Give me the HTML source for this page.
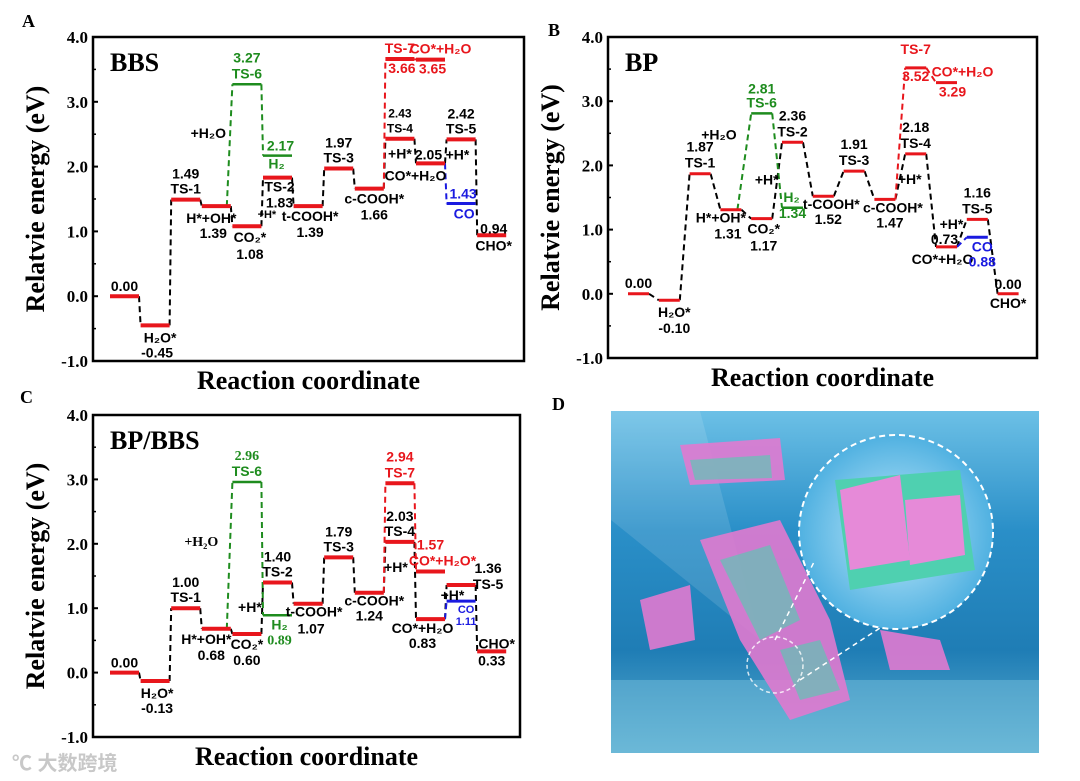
<!DOCTYPE html>
<html><head><meta charset="utf-8"><style>
html,body{margin:0;padding:0;background:#fff;width:1080px;height:781px;overflow:hidden}
svg text{font-family:"Liberation Sans",Arial,sans-serif;font-weight:bold}
.serif{font-family:"Liberation Serif","Times New Roman",serif !important;font-weight:bold}
</style></head><body>
<svg id="fig" width="1080" height="781" viewBox="0 0 1080 781" xmlns="http://www.w3.org/2000/svg">
<defs>
<linearGradient id="sea" x1="0" y1="0" x2="0" y2="1">
<stop offset="0" stop-color="#6cc0e6"/><stop offset="0.35" stop-color="#2a8fc8"/><stop offset="0.7" stop-color="#1f7db5"/><stop offset="1" stop-color="#5eb0d2"/></linearGradient>
<radialGradient id="bub" cx="0.5" cy="0.5" r="0.6"><stop offset="0" stop-color="#bfe8fa"/><stop offset="1" stop-color="#3aa6dc"/></radialGradient>
</defs>
<g id="panels"></g>
<g>
<rect x="611" y="411" width="428" height="342" fill="url(#sea)"/>
<polygon points="611,411 700,411 760,640 611,520" fill="#ffffff" opacity="0.12"/>
<rect x="611" y="680" width="428" height="73" fill="#7cc3dd" opacity="0.45"/>
<g fill="#e07ad0" opacity="0.9">
<polygon points="680,445 780,438 785,480 690,485"/>
<polygon points="700,540 780,520 830,620 850,700 790,720 740,640"/>
<polygon points="640,600 690,585 695,640 650,650"/>
<polygon points="880,630 940,640 950,670 890,670"/>
</g>
<g fill="#4fd0b0" opacity="0.6">
<polygon points="720,560 770,545 800,620 760,640"/>
<polygon points="780,650 820,640 840,690 800,700"/>
<polygon points="690,460 770,455 772,478 695,480"/>
</g>
<circle cx="896" cy="532" r="97" fill="url(#bub)" stroke="#fff" stroke-width="2" stroke-dasharray="6,4"/>
<polygon points="835,480 960,470 975,570 850,590" fill="#4fd0b0"/>
<polygon points="840,490 900,475 910,560 850,570" fill="#e68ad8"/>
<polygon points="905,500 960,495 965,555 910,565" fill="#e68ad8"/>
<circle cx="775" cy="665" r="28" fill="none" stroke="#fff" stroke-width="1.5" stroke-dasharray="4,3" opacity="0.8"/>
<line x1="775" y1="640" x2="815" y2="560" stroke="#fff" stroke-width="1.5" stroke-dasharray="5,4"/>
<line x1="800" y1="680" x2="880" y2="628" stroke="#fff" stroke-width="1.5" stroke-dasharray="5,4"/>
</g>
<text x="22" y="27" class="serif" font-size="18">A</text>
<text x="548" y="36" class="serif" font-size="18">B</text>
<text x="20" y="403" class="serif" font-size="18">C</text>
<text x="552" y="410" class="serif" font-size="18">D</text>
<text x="12" y="770" font-size="20" fill="#c8c8c8" style="font-family:'Liberation Sans','Noto Sans CJK SC',sans-serif">℃ 大数跨境</text>
</svg>
<script>
// ---- data ----
const blackA=[0.00,-0.45,1.49,1.39,1.08,1.83,1.39,1.97,1.66,2.43,2.05,2.42,0.94];
const blackB=[0.00,-0.10,1.87,1.31,1.17,2.36,1.52,1.91,1.47,2.18,0.73,1.16,0.00];
const blackC=[0.00,-0.13,1.00,0.68,0.60,1.40,1.07,1.79,1.24,2.03,0.83,1.36,0.33];
const greenA=[3.27,2.17], greenB=[2.81,1.34], greenC=[2.96,0.89];
const redA=[3.66,3.65], redB=[3.52,3.29], redC=[2.94,1.57];
const blueA=[1.43], blueB=[0.88], blueC=[1.11];
const yTicks=["4.0","3.0","2.0","1.0","0.0","-1.0"];
const titles=["BBS","BP","BP/BBS"];

const NS="http://www.w3.org/2000/svg";
const root=document.getElementById('panels');
function mk(tag,attrs,parent){const e=document.createElementNS(NS,tag);for(const k in attrs)e.setAttribute(k,attrs[k]);(parent||root).appendChild(e);return e;}

const panels=[
 {L:93,R:524,T:37,B:361,x0:110,step:30.6,w:29,black:blackA,green:greenA,red:redA,blue:blueA,title:titles[0],lw:4,
  labels:[['k',0,'v',-5,0],['k',1,'H₂O*',17,5],['k',1,'v',32,2],['k',2,'v',-21,0],['k',2,'TS-1',-6,0],
  ['k',3,'H*+OH*',17,-5],['k',3,'v',32,-3],['k',4,'CO₂*',16,3],['k',4,'v',33,3],['k',5,'TS-2',14,2],['k',5,'v',30,2],['k',4,'+H*',-8,20,11],
  ['k',6,'t-COOH*',15,2],['k',6,'v',31,2],['k',7,'v',-21,0],['k',7,'TS-3',-6,0],['k',8,'c-COOH*',15,5],['k',8,'v',31,5],
  ['k',9,'v',-21,0,12],['k',9,'TS-4',-6,0,12],['k',9,'+H*',20,0],['k',10,'v',-4,-2],['k',10,'+H*',-4,27],['k',10,'CO*+H₂O',17,-15],
  ['k',11,'v',-21,0],['k',11,'TS-5',-6,0],['k',12,'v',-2,2],['k',12,'CHO*',15,2],
  ['g',0,'v',-22,0],['g',0,'TS-6',-6,0],['g',1,'v',-5,3],['g',1,'H₂',13,-1],['k',3,'+H₂O',-68,-8],
  ['r',0,'TS-7',-6,0],['r',0,'v',14,2],['r',1,'CO*+H₂O',-6,10],['r',1,'v',14,2],['b',0,'v',-5,2],['b',0,'CO',15,3]]},
 {L:608,R:1037,T:37,B:358,x0:628,step:30.8,w:21,black:blackB,green:greenB,red:redB,blue:blueB,title:titles[1],lw:3,
  labels:[['k',0,'v',-6,0],['k',1,'H₂O*',17,5],['k',1,'v',33,5],['k',2,'v',-22,0],['k',2,'TS-1',-6,0],
  ['k',3,'H*+OH*',13,-10],['k',3,'v',29,-3],['k',4,'CO₂*',15,2],['k',4,'v',32,2],['k',5,'v',-22,0],['k',5,'TS-2',-6,0],['k',4,'+H*',-34,5],
  ['k',6,'t-COOH*',13,8],['k',6,'v',28,5],['k',7,'v',-22,0],['k',7,'TS-3',-6,0],['k',8,'c-COOH*',13,8],['k',8,'v',28,5],
  ['k',9,'v',-22,0],['k',9,'TS-4',-6,0],['k',9,'+H*',30,-6],['k',10,'+H*',-18,5],['k',10,'v',-3,-2],['k',10,'CO*+H₂O',17,-4],
  ['k',11,'v',-22,0],['k',11,'TS-5',-6,0],['k',12,'v',-5,0],['k',12,'CHO*',14,0],
  ['g',0,'v',-20,0],['g',0,'TS-6',-6,0],['g',1,'H₂',-6,-1],['g',1,'v',10,0],['k',3,'+H₂O',-70,-12],
  ['r',0,'TS-7',-14,0],['r',0,'v',13,0],['r',1,'CO*+H₂O',-6,16],['r',1,'v',14,6],['b',0,'CO',14,5],['b',0,'v',29,5]]},
 {L:93,R:520,T:415,B:737,x0:110,step:30.6,w:29,black:blackC,green:greenC,red:redC,blue:blueC,title:titles[2],lw:4,
  labels:[['k',0,'v',-5,0],['k',1,'H₂O*',17,2],['k',1,'v',32,2],['k',2,'v',-21,0],['k',2,'TS-1',-6,0],
  ['k',3,'H*+OH*',15,-10],['k',3,'v',31,-5],['k',4,'CO₂*',15,0],['k',4,'v',31,0],['k',5,'v',-21,0],['k',5,'TS-2',-6,0],['k',4,'+H*',-22,3],
  ['k',6,'t-COOH*',13,6],['k',6,'v',30,3],['k',7,'v',-21,0],['k',7,'TS-3',-6,0],['k',8,'c-COOH*',13,5],['k',8,'v',28,0],
  ['k',9,'v',-21,0],['k',9,'TS-4',-6,0],['k',9,'+H*',30,-4],['k',10,'+H*',-19,22],['k',10,'CO*+H₂O',14,-8],['k',10,'v',29,-8],
  ['k',11,'v',-12,27],['k',11,'TS-5',4,27],['k',12,'CHO*',-3,5],['k',12,'v',14,0],
  ['g',0,'v',-22,0,14,1],['g',0,'TS-6',-6,0],['g',1,'H₂',14,2],['g',1,'v',29,2,14,1],['k',3,'+H₂O',-83,-15,14,1],
  ['r',0,'v',-22,0],['r',0,'TS-7',-6,0],['r',1,'v',-22,0],['r',1,'CO*+H₂O*',-6,12],['b',0,'CO',12,5,11],['b',0,'v',24,5,11]]}
];
const COL={k:'#000',g:'#1e8c1e',r:'#e8161c',b:'#1a1ae0'};

panels.forEach((p,pi)=>{
  const g=mk('g',{});
  
  
  const y=v=>p.T+(4-v)*(p.B-p.T)/5;
  const xs=i=>p.x0+i*p.step;
  const xe=i=>xs(i)+p.w;
  const box=mk('rect',{x:p.L,y:p.T,width:p.R-p.L,height:p.B-p.T,fill:'none',stroke:'#000','stroke-width':2.5},g);
  
  
  yTicks.forEach((t,i)=>{
    const v=parseFloat(t), yy=y(v);
    mk('line',{x1:p.L,x2:p.L+5,y1:yy,y2:yy,stroke:'#000','stroke-width':2},g);
    if(i<yTicks.length-1) mk('line',{x1:p.L,x2:p.L+3,y1:y(v-0.5),y2:y(v-0.5),stroke:'#000','stroke-width':1.5},g);
    const tx=mk('text',{x:p.L-5,y:yy+6,'text-anchor':'end','font-size':17,class:'serif'},g);
    tx.textContent=t;
    
    
  });
  const yt=mk('text',{transform:`translate(${p.L-49},${(p.T+p.B)/2}) rotate(-90)`,'text-anchor':'middle','font-size':26,class:'serif'},g);
  yt.textContent='Relatvie energy (eV)';
  
  
  const xt=mk('text',{x:(p.L+p.R)/2,y:p.B+28,'text-anchor':'middle','font-size':26,class:'serif'},g);
  xt.textContent='Reaction coordinate';
  
  
  const tt=mk('text',{x:p.L+17,y:p.T+34,'font-size':26,class:'serif'},g);
  tt.textContent=p.title;
  
  
  const dash=(x1,y1,x2,y2,c)=>mk('line',{x1,y1,x2,y2,stroke:c,'stroke-width':2,'stroke-dasharray':'6,4'},g);
  for(let i=0;i<p.black.length-1;i++) dash(xe(i),y(p.black[i]),xs(i+1),y(p.black[i+1]),'#000');
  dash(xe(3)-4,y(p.black[3]),xs(4),y(p.green[0]),'#1e8c1e');
  dash(xe(4),y(p.green[0]),xs(5),y(p.green[1]),'#1e8c1e');
  dash(xe(8),y(p.black[8]),xs(9),y(p.red[0]),'#e8161c');
  dash(xe(9),y(p.red[0]),xs(10),y(p.red[1]),'#e8161c');
  dash(xe(10),y(p.black[10]),xs(11),y(p.blue[0]),'#1a1ae0');
  const lvl=(i,v,c,n,w)=>{const l=mk('line',{x1:xs(i),x2:xe(i),y1:y(v),y2:y(v),stroke:c,'stroke-width':w},g);
    
    };
  p.black.forEach((v,i)=>lvl(i,v,'#e8161c','level-'+i,p.lw));
  p.green.forEach((v,i)=>lvl(4+i,v,'#1e8c1e','green-level-'+i,2.5));
  p.red.forEach((v,i)=>lvl(9+i,v,'#e8161c','red-level-'+i,p.lw));
  p.blue.forEach((v,i)=>lvl(11+i,v,'#1a1ae0','blue-level-'+i,3));
  p.labels.forEach(([s,i,txt,dy,dx,fs,serif])=>{
    const arr=s==='k'?p.black:s==='g'?p.green:s==='r'?p.red:p.blue;
    const off=s==='g'?4:s==='r'?9:s==='b'?11:0;
    const v=arr[i];
    const slot=i+off;
    const t=mk('text',{x:xs(slot)+p.w/2+dx,y:y(v)+dy,'text-anchor':'middle','font-size':fs||14,fill:COL[s]},g);
    if(serif) t.setAttribute('class','serif');
    t.textContent = txt==='v'?v.toFixed(2):txt;
    
    
  });
});
</script>
</body></html>
